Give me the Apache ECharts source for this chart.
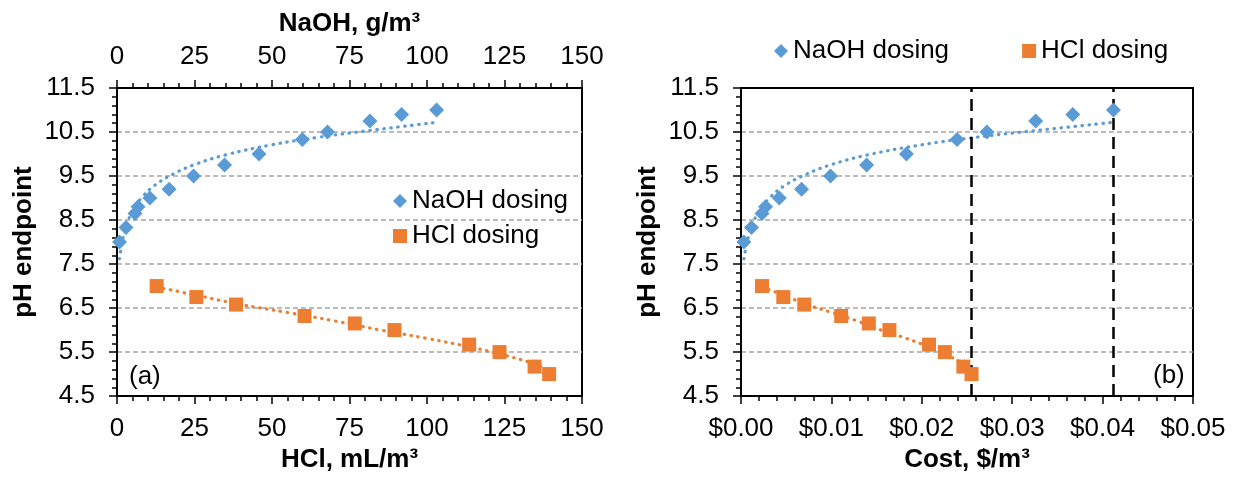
<!DOCTYPE html>
<html>
<head>
<meta charset="utf-8">
<script src="https://cdn.jsdelivr.net/npm/echarts@6/dist/echarts.min.js"></script>
<style>
html,body{margin:0;padding:0;background:#fff;}
#chart{width:1233px;height:478px;}
</style>
</head>
<body>
<div id="chart"></div>
<script>
// ---- data ----
const naohG    = [0.8, 2.9, 5.8, 6.8, 10.6, 16.8, 24.7, 34.7, 45.8, 59.8, 67.9, 81.6, 91.8, 103.1];
const naohPH   = [8.0, 8.33, 8.65, 8.8, 9.0, 9.2, 9.5, 9.75, 10.0, 10.33, 10.5, 10.75, 10.9, 11.0];
const naohCost = [0.00032, 0.00116, 0.00232, 0.00272, 0.00424, 0.0067, 0.0099, 0.0139, 0.0183, 0.0239, 0.0272, 0.0326, 0.0367, 0.0412];

const hclML    = [12.8, 25.6, 38.4, 60.5, 76.7, 89.5, 113.6, 123.4, 134.7, 139.4];
const hclPH    = [7.0, 6.75, 6.58, 6.32, 6.15, 6.0, 5.67, 5.5, 5.17, 5.0];
const hclCost  = [0.00232, 0.00468, 0.0070, 0.01108, 0.01414, 0.01642, 0.0208, 0.02255, 0.0246, 0.0255];

// dotted trendlines
const naohTrendG    = [0.8, 1.5, 3, 5, 8, 12, 18, 25, 35, 50, 65, 80, 103.1];
const naohTrendCost = [0.00032, 0.0006, 0.0012, 0.002, 0.0032, 0.0048, 0.0072, 0.01, 0.014, 0.02, 0.026, 0.032, 0.0412];
const naohTrendPH   = [7.62, 7.92, 8.37, 8.70, 9.01, 9.28, 9.54, 9.76, 9.98, 10.21, 10.38, 10.52, 10.72];

const hclTrendML    = [12.8, 25, 40, 55, 70, 85, 100, 115, 125, 133, 139.4];
const hclTrendCost  = [0.00232, 0.0046, 0.0073, 0.0100, 0.0128, 0.0155, 0.0183, 0.021, 0.0228, 0.0243, 0.0255];
const hclTrendPH    = [6.98, 6.80, 6.58, 6.40, 6.21, 6.0, 5.81, 5.6, 5.43, 5.27, 5.1];

// vertical dashed cost markers (right panel)
const costMarkers = [0.0255, 0.0412];

// axis tick settings
const doseTicks = {min: 0, max: 150, interval: 25};
const costTicks = {min: 0, max: 0.05, interval: 0.01};
const phTicks   = {min: 4.5, max: 11.5, interval: 1};

const seriesNames = ['NaOH dosing', 'HCl dosing'];
const labels = {hcl: 'HCl, mL/m³', naoh: 'NaOH, g/m³', cost: 'Cost, $/m³', ph: 'pH endpoint'};

// ---- chart ----
const BLUE = '#5B9BD5', ORANGE = '#ED7D31';
const FONT = '"Liberation Sans", Arial, sans-serif';
const zip = (a, b) => a.map((v, i) => [v, b[i]]);

const axisLine = {show: true, onZero: false, lineStyle: {color: '#000', width: 2}};
const axisTick = {show: true, length: 8, lineStyle: {color: '#000', width: 1.5}};
const minorTick = {show: true, splitNumber: 5, length: 5, lineStyle: {color: '#000', width: 1.5}};
const tickLabel = (margin, fmt) => ({color: '#000', fontSize: 26, fontFamily: FONT, margin: margin, showMinLabel: true, showMaxLabel: true, formatter: fmt});
const nameStyle = {color: '#000', fontSize: 26, fontWeight: 'bold', fontFamily: FONT};

function xAx(grid, pos, ticks, name, gap, margin, fmt) {
  return Object.assign({
    type: 'value', gridIndex: grid, position: pos,
    name: name, nameLocation: 'middle', nameGap: gap, nameTextStyle: nameStyle,
    axisLine: axisLine, axisTick: axisTick, minorTick: minorTick,
    axisLabel: tickLabel(margin, fmt), splitLine: {show: false}
  }, ticks);
}
function yAx(grid) {
  return Object.assign({
    type: 'value', gridIndex: grid, position: 'left',
    name: labels.ph, nameLocation: 'middle', nameGap: 80, nameTextStyle: nameStyle,
    axisLine: axisLine, axisTick: axisTick, minorTick: minorTick,
    axisLabel: tickLabel(22, v => v.toFixed(1)),
    splitLine: {show: true, showMinLine: false, showMaxLine: false, lineStyle: {color: '#A6A6A6', width: 1.5, type: [5, 3]}}
  }, phTicks);
}

const dotted = c => ({color: c, width: 3.2, type: [0.5, 6.5], cap: 'round'});
const scatter = (name, xi, yi, data, sym, size, color) => ({
  name: name, type: 'scatter', xAxisIndex: xi, yAxisIndex: yi, data: data,
  symbol: sym, symbolSize: size, itemStyle: {color: color, opacity: 1}, z: 5
});
const trend = (name, xi, yi, data, color) => ({
  name: name, type: 'line', xAxisIndex: xi, yAxisIndex: yi, data: data,
  showSymbol: false, smooth: 0.4, lineStyle: dotted(color), z: 4, silent: true
});

const legendText = {color: '#000', fontSize: 26, fontFamily: FONT};
const legendData = [{name: seriesNames[0], icon: 'diamond'}, {name: seriesNames[1], icon: 'rect'}];

const option = {
  animation: false,
  backgroundColor: '#fff',
  grid: [
    {left: 117, top: 88, width: 465, height: 310, show: true, borderColor: '#000', borderWidth: 2, backgroundColor: 'transparent'},
    {left: 741, top: 88, width: 452, height: 310, show: true, borderColor: '#000', borderWidth: 2, backgroundColor: 'transparent'}
  ],
  xAxis: [
    xAx(0, 'bottom', doseTicks, labels.hcl, 50, 20),
    xAx(0, 'top', doseTicks, labels.naoh, 51, 18),
    xAx(1, 'bottom', costTicks, labels.cost, 50, 20, v => '$' + v.toFixed(2))
  ],
  yAxis: [yAx(0), yAx(1)],
  legend: [
    {data: legendData, orient: 'vertical', left: 388, top: 183, itemGap: 9, itemWidth: 14, itemHeight: 14, textStyle: legendText, selectedMode: false},
    {data: legendData, orient: 'horizontal', left: 769, top: 33, itemGap: 73, itemWidth: 14, itemHeight: 14, textStyle: legendText, selectedMode: false}
  ],
  graphic: [
    {type: 'text', left: 129, top: 364, style: {text: '(a)', fill: '#000', font: '26px ' + FONT}},
    {type: 'text', left: 1153, top: 363, style: {text: '(b)', fill: '#000', font: '26px ' + FONT}}
  ],
  series: [
    trend('NaOH trend a', 1, 0, zip(naohTrendG, naohTrendPH), BLUE),
    trend('HCl trend a', 0, 0, zip(hclTrendML, hclTrendPH), ORANGE),
    scatter(seriesNames[0], 1, 0, zip(naohG, naohPH), 'diamond', 15, BLUE),
    scatter(seriesNames[1], 0, 0, zip(hclML, hclPH), 'rect', 14, ORANGE),
    trend('NaOH trend b', 2, 1, zip(naohTrendCost, naohTrendPH), BLUE),
    trend('HCl trend b', 2, 1, zip(hclTrendCost, hclTrendPH), ORANGE),
    scatter(seriesNames[0], 2, 1, zip(naohCost, naohPH), 'diamond', 15, BLUE),
    Object.assign(scatter(seriesNames[1], 2, 1, zip(hclCost, hclPH), 'rect', 14, ORANGE), {
      markLine: {
        silent: true, symbol: ['none', 'none'], label: {show: false}, precision: 6,
        lineStyle: {color: '#000', width: 2.5, type: [12, 7]},
        data: costMarkers.map(v => [{coord: [v, phTicks.min]}, {coord: [v, phTicks.max]}])
      }
    })
  ]
};

const chart = echarts.init(document.getElementById('chart'), null, {renderer: 'canvas'});
chart.setOption(option);
</script>
</body>
</html>
